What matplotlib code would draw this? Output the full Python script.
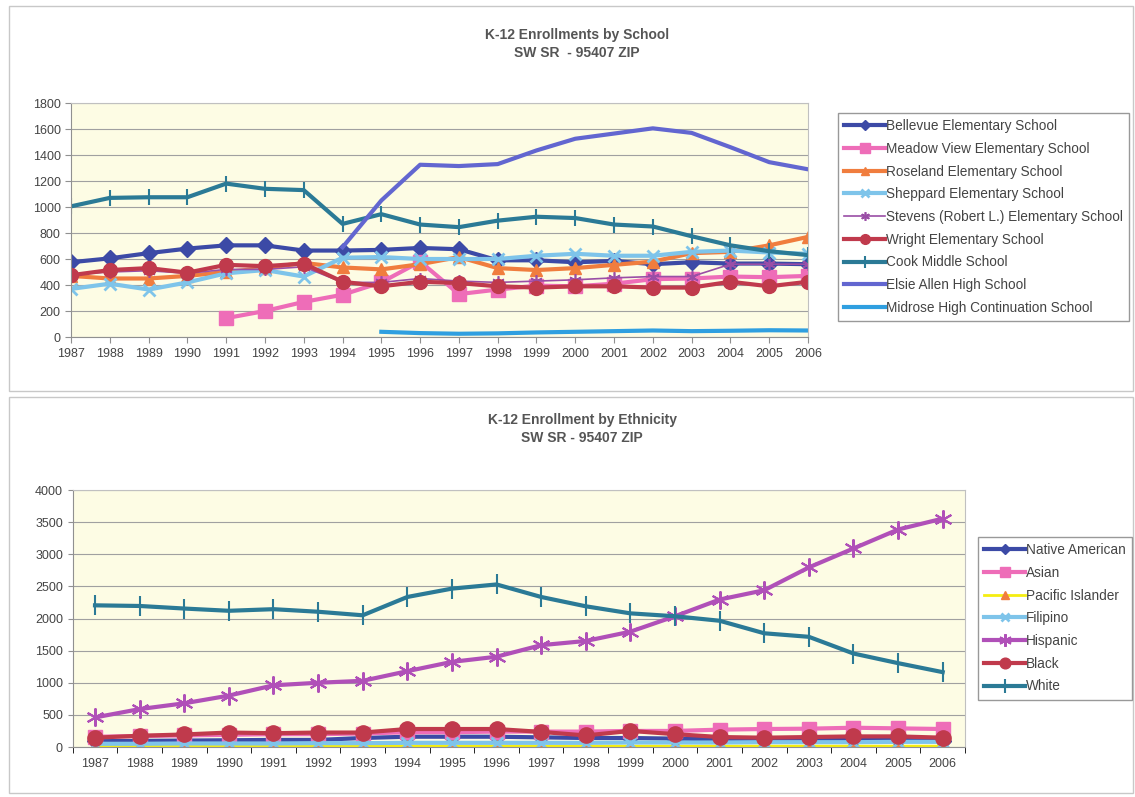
import numpy as np
import matplotlib.pyplot as plt
from matplotlib.patches import Rectangle

plt.rcParams['font.family'] = ['Liberation Sans', 'DejaVu Sans']

years = list(range(1987, 2007))
nan = np.nan

# school enrollments
bellevue = [575, 605, 645, 680, 705, 705, 665, 665, 670, 685, 675, 590, 590, 575, 585, 560, 575, 565, 565, 560]
meadow_view = [nan, nan, nan, nan, 145, 200, 270, 325, 420, 580, 330, 365, 395, 390, 410, 445, 450, 465, 460, 470]
roseland = [470, 450, 450, 470, 500, 530, 570, 535, 520, 560, 615, 530, 515, 530, 555, 580, 645, 655, 705, 770]
sheppard = [370, 410, 365, 420, 490, 515, 465, 610, 615, 600, 600, 600, 625, 640, 625, 625, 655, 665, 650, 640]
stevens = [480, 500, 510, 490, 520, 520, 540, 420, 420, 450, 430, 420, 430, 440, 455, 465, 465, 560, 560, 560]
wright = [475, 515, 530, 495, 555, 545, 565, 425, 390, 425, 415, 390, 380, 390, 390, 380, 380, 425, 390, 425]
cook = [1005, 1070, 1075, 1075, 1180, 1140, 1130, 870, 945, 865, 845, 895, 925, 915, 865, 850, 775, 705, 660, 630]
elsie_allen = [nan, nan, nan, nan, nan, nan, nan, 690, 1050, 1325, 1315, 1330, 1435, 1525, 1565, 1605, 1570, 1460, 1345, 1290]
midrose = [nan, nan, nan, nan, nan, nan, nan, nan, 40, 30, 25, 28, 35, 40, 45, 50, 45, 48, 52, 50]

# ethnicity enrollments
native_american = [90, 95, 100, 105, 110, 110, 140, 160, 160, 160, 150, 140, 140, 130, 120, 120, 120, 110, 110, 100]
asian = [160, 170, 180, 190, 200, 200, 210, 230, 230, 240, 240, 240, 250, 250, 270, 280, 285, 300, 290, 280]
pacific_islander = [10, 10, 10, 10, 10, 10, 10, 12, 12, 12, 12, 12, 12, 12, 12, 12, 12, 12, 12, 12]
filipino = [50, 50, 55, 55, 55, 60, 60, 65, 65, 65, 65, 65, 70, 70, 70, 75, 75, 75, 80, 80]
hispanic = [460, 590, 680, 800, 960, 1000, 1030, 1180, 1325, 1405, 1585, 1650, 1795, 2035, 2295, 2440, 2795, 3090, 3385, 3555]
black = [145, 175, 195, 225, 215, 225, 225, 280, 280, 280, 235, 180, 250, 200, 155, 145, 155, 165, 165, 145]
white = [2205, 2195, 2155, 2120, 2145, 2105, 2050, 2335, 2465, 2530, 2335, 2190, 2080, 2035, 1965, 1770, 1715, 1455, 1305, 1165]

NAVY = '#3c4aa6'
PINK = '#ee6db8'
ORANGE = '#f07d3e'
LBLUE = '#7ec4ea'
PURPLE = '#9a4ea6'
DRED = '#c03a4c'
TEAL = '#2b7a96'
EBLUE = '#6266d0'
SKY = '#2f9fe0'
BG = '#fdfce4'
TXT = '#444444'

W, H = 1135, 797
fig = plt.figure(figsize=(W / 100, H / 100), dpi=100)

# chart frames
for y0, h in [(0.51, 0.483), (0.005, 0.497)]:
    fig.add_artist(Rectangle((0.008, y0), 0.99, h, transform=fig.transFigure,
                             fill=False, edgecolor='#c8c8c8', lw=1))


def style_axes(ax):
    ax.set_facecolor(BG)
    ax.grid(axis='y', color='#a0a0a0', lw=0.8)
    ax.set_axisbelow(True)
    for s in ['top', 'right']:
        ax.spines[s].set_color('#c0c0c0')
    for s in ['left', 'bottom']:
        ax.spines[s].set_color('#909090')


def add_legend(ax, x, y):
    leg = fig.legend(*ax.get_legend_handles_labels(), loc='upper left',
                     bbox_to_anchor=(x / W, 1 - y / H), fontsize=9.8, frameon=True,
                     fancybox=False, edgecolor='#808080', handlelength=3.0, handletextpad=0.05,
                     labelspacing=0.64, borderpad=0.45, borderaxespad=0, markerscale=0.7)
    for t in leg.get_texts():
        t.set_color(TXT)


# ---- top chart ----
ax1 = fig.add_axes([71 / W, 1 - 337 / H, 737 / W, 234 / H])
style_axes(ax1)
ax1.plot(years, bellevue, color=NAVY, lw=3, marker='D', ms=8, label='Bellevue Elementary School')
ax1.plot(years, meadow_view, color=PINK, lw=3, marker='s', ms=10, label='Meadow View Elementary School')
ax1.plot(years, roseland, color=ORANGE, lw=3, marker='^', ms=9, label='Roseland Elementary School')
ax1.plot(years, sheppard, color=LBLUE, lw=3, marker='x', ms=9, mew=2, label='Sheppard Elementary School')
ax1.plot(years, stevens, color=PURPLE, lw=1.2, marker=(6, 2, 0), ms=9, mew=1.2, label='Stevens (Robert L.) Elementary School')
ax1.plot(years, wright, color=DRED, lw=3, marker='o', ms=10, label='Wright Elementary School')
ax1.plot(years, cook, color=TEAL, lw=3, marker='|', ms=12, mew=1.5, label='Cook Middle School')
ax1.plot(years, elsie_allen, color=EBLUE, lw=3, label='Elsie Allen High School')
ax1.plot(years, midrose, color=SKY, lw=3, label='Midrose High Continuation School')

ax1.set_xlim(1987, 2006)
ax1.set_ylim(0, 1800)
ax1.set_yticks(range(0, 1801, 200))
ax1.set_xticks(years)
ax1.tick_params(labelsize=9, colors=TXT, length=4, color='#909090')
ax1.tick_params(axis='x', pad=4)
fig.text(577 / W, 1 - 44 / H, 'K-12 Enrollments by School\nSW SR  - 95407 ZIP', ha='center', va='center',
         fontsize=10, fontweight='bold', color='#555555', linespacing=1.3)
add_legend(ax1, 838, 113)

# ---- bottom chart ----
ax2 = fig.add_axes([72.7 / W, 1 - 747 / H, 892.3 / W, 257 / H])
style_axes(ax2)
ax2.plot(years, native_american, color=NAVY, lw=3, marker='D', ms=8, label='Native American')
ax2.plot(years, asian, color=PINK, lw=3, marker='s', ms=10, label='Asian')
ax2.plot(years, pacific_islander, color='#f5ee10', lw=2, marker='^', ms=9, mfc=ORANGE, mec=ORANGE,
         label='Pacific Islander')
ax2.plot(years, filipino, color=LBLUE, lw=3, marker='x', ms=9, mew=2, label='Filipino')
ax2.plot(years, hispanic, color='#b050b8', lw=3, marker=(6, 2, 0), ms=13, mew=1.5, label='Hispanic')
ax2.plot(years, black, color=DRED, lw=3, marker='o', ms=11, label='Black')
ax2.plot(years, white, color=TEAL, lw=3, marker='|', ms=14, mew=1.5, label='White')

ax2.set_xlim(1986.5, 2006.5)
ax2.set_ylim(0, 4000)
ax2.set_yticks(range(0, 4001, 500))
ax2.set_xticks(years)
ax2.set_xticks(np.arange(1986.5, 2007, 1), minor=True)
ax2.tick_params(labelsize=9, colors=TXT, color='#909090')
ax2.tick_params(axis='x', which='major', length=0, pad=8)
ax2.tick_params(axis='x', which='minor', length=4)
fig.text(582 / W, 1 - 429 / H, 'K-12 Enrollment by Ethnicity\nSW SR - 95407 ZIP', ha='center', va='center',
         fontsize=10, fontweight='bold', color='#555555', linespacing=1.3)
add_legend(ax2, 978, 537)

fig.savefig('out.png', dpi=100)
